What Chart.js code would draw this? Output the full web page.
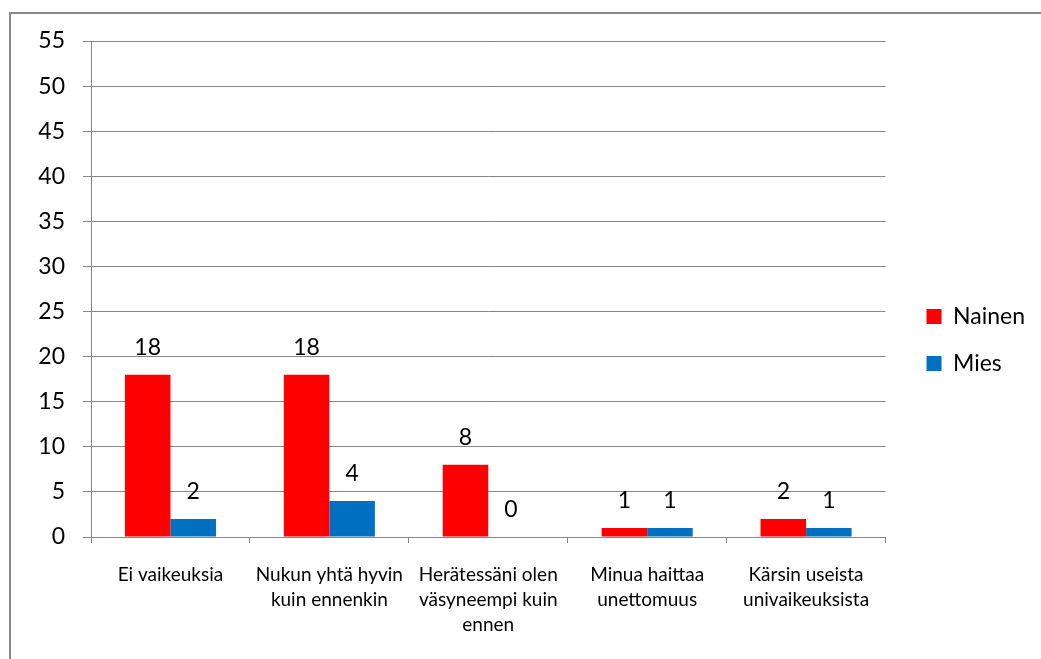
<!DOCTYPE html>
<html>
<head>
<meta charset="utf-8">
<script src="https://cdn.jsdelivr.net/npm/chart.js@4/dist/chart.umd.min.js"></script>
<style>
  html, body { margin: 0; padding: 0; background: #fff; }
  #wrap { position: relative; width: 1041px; height: 659px; }
</style>
</head>
<body>
<div id="wrap"><canvas id="c" width="1041" height="659"></canvas></div>
<script>
// Sleep survey answers by gender
const categories = [
  'Ei vaikeuksia',
  ['Nukun yhtä hyvin', 'kuin ennenkin'],
  ['Herätessäni olen', 'väsyneempi kuin', 'ennen'],
  ['Minua haittaa', 'unettomuus'],
  ['Kärsin useista', 'univaikeuksista']
];
const seriesNames = ['Nainen', 'Mies'];
const nainen = [18, 18, 8, 1, 2];
const mies = [2, 4, 0, 1, 1];
const yTicks = [0, 5, 10, 15, 20, 25, 30, 35, 40, 45, 50, 55];

const GRID = '#868686';
const FONT = 'Lato, "Open Sans", sans-serif';

// Outer frame of the chart object and white backdrop
const framePlugin = {
  id: 'frame',
  beforeDraw(chart) {
    const ctx = chart.ctx;
    ctx.save();
    ctx.fillStyle = '#fff';
    ctx.fillRect(0, 0, chart.width, chart.height);
    ctx.strokeStyle = GRID;
    ctx.lineWidth = 2;
    ctx.strokeRect(10, 13, 1200, 800);
    ctx.restore();
  }
};

// Value labels above each bar
const valueLabels = {
  id: 'valueLabels',
  afterDatasetsDraw(chart) {
    const ctx = chart.ctx;
    ctx.save();
    ctx.font = '23px ' + FONT;
    ctx.fillStyle = '#000';
    ctx.textAlign = 'center';
    ctx.textBaseline = 'middle';
    chart.data.datasets.forEach((ds, i) => {
      const meta = chart.getDatasetMeta(i);
      meta.data.forEach((bar, j) => {
        ctx.fillText(String(ds.data[j]), bar.x, bar.y - 27);
      });
    });
    ctx.restore();
  }
};

new Chart(document.getElementById('c'), {
  type: 'bar',
  data: {
    labels: categories,
    datasets: [
      { label: seriesNames[0], data: nainen, backgroundColor: '#FF0000',
        barPercentage: 1.0, categoryPercentage: 0.573 },
      { label: seriesNames[1], data: mies, backgroundColor: '#0070C0',
        barPercentage: 1.0, categoryPercentage: 0.573 }
    ]
  },
  options: {
    responsive: false,
    animation: false,
    devicePixelRatio: 1,
    layout: { padding: { left: 10, top: 41, right: 6, bottom: 20 } },
    plugins: {
      legend: {
        position: 'right',
        labels: {
          boxWidth: 15,
          boxHeight: 15,
          padding: 24,
          color: '#000',
          font: { family: FONT, size: 23 }
        }
      },
      tooltip: { enabled: false }
    },
    scales: {
      x: {
        offset: true,
        grid: { display: true, drawOnChartArea: false, offset: true, color: GRID, tickLength: 6 },
        border: { color: GRID, width: 1 },
        ticks: {
          color: '#000',
          font: { family: FONT, size: 19, lineHeight: 1.33 },
          padding: 19,
          maxRotation: 0,
          autoSkip: false
        },
        afterFit(s) { s.height = 102; }
      },
      y: {
        min: 0,
        max: 55,
        afterBuildTicks(s) { s.ticks = yTicks.map(v => ({ value: v })); },
        grid: { color: GRID, tickLength: 8 },
        border: { color: GRID, width: 1 },
        ticks: {
          color: '#000',
          font: { family: FONT, size: 23 },
          padding: 18
        },
        afterFit(s) { s.width = 81; }
      },
      gap: {
        type: 'linear',
        position: 'right',
        display: true,
        grid: { display: false },
        border: { display: false },
        ticks: { display: false },
        afterFit(s) { s.width = 17; }
      }
    }
  },
  plugins: [framePlugin, valueLabels]
});
</script>
</body>
</html>
